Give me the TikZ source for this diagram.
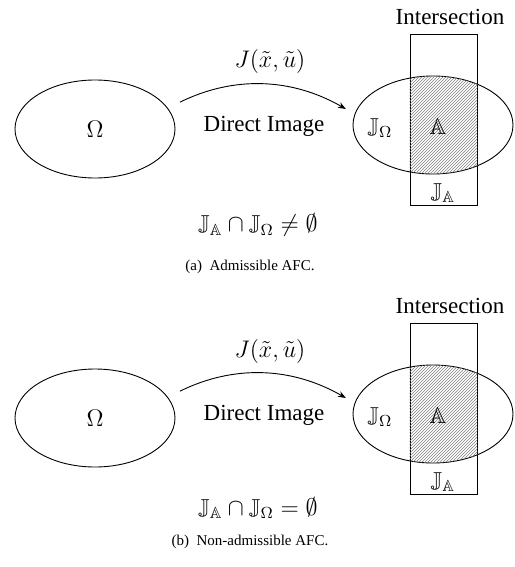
\documentclass[tikz,border=0pt]{standalone}
\usepackage{amsmath,amssymb}
\usepackage{fontspec}
\setmainfont{Liberation Serif}
\usetikzlibrary{arrows.meta,shapes.geometric}

\begin{document}
\begin{tikzpicture}[x=0.5pt, y=-0.5pt, font=\fontsize{11.5}{14}\selectfont, >={Stealth[length=4pt, width=3pt]}, region/.style = {ellipse, draw, line width=0.45pt, minimum width=80pt, minimum height=49pt, inner sep=0pt}, box/.style = {draw, line width=0.45pt, minimum width=33.5pt, minimum height=85.5pt, inner sep=0pt}, hatchline/.style = {draw=gray, line width=0.3pt}, caption/.style = {font=\fontsize{7.5}{9}\selectfont}, every edge/.append style={line width=0.45pt}]

\useasboundingbox (0,0) rectangle (514,567);

% (a) admissible
\node[region] (omegaA) at (95,129) {$\Omega$};
\node[region] (imgA) at (433,125) {};
\node[box] (boxA) at (443.5,119.5) {};
\begin{scope}
\clip (boxA.south west) rectangle (boxA.north east);
\clip (imgA.center) ellipse [x radius=40pt, y radius=24.5pt];
\foreach \k in {240,243,...,510}
  \draw[hatchline] (\k,220) -- ++(200,-200);
\end{scope}

\node (interA) at (450,17) {Intersection};
\node (mapA) at (270,62) {$J(\tilde{x},\tilde{u})$};
\node (directA) at (264,126) {Direct Image};
\node (jomA) at (380,128) {$\mathbb{J}_\Omega$};
\node (aA) at (438,127) {$\mathbb{A}$};
\node (jaA) at (443,193) {$\mathbb{J}_{\mathbb{A}}$};
\node (relA) at (258,225) {$\mathbb{J}_{\mathbb{A}}\cap\mathbb{J}_\Omega\neq\emptyset$};
\node[caption] (capA) at (250,267) {(a)\enspace Admissible AFC.};

\path (omegaA.16) edge[->, bend left=28, shorten <=6.7pt, shorten >=5pt] (imgA.172);

% (b) non-admissible
\node[region] (omegaB) at (95,418) {$\Omega$};
\node[region] (imgB) at (433,414) {};
\node[box] (boxB) at (443.5,408.5) {};
\begin{scope}
\clip (boxB.south west) rectangle (boxB.north east);
\clip (imgB.center) ellipse [x radius=40pt, y radius=24.5pt];
\foreach \k in {240,243,...,510}
  \draw[hatchline] (\k,509) -- ++(200,-200);
\end{scope}

\node (interB) at (450,306) {Intersection};
\node (mapB) at (270,351) {$J(\tilde{x},\tilde{u})$};
\node (directB) at (264,415) {Direct Image};
\node (jomB) at (380,417) {$\mathbb{J}_\Omega$};
\node (aB) at (438,416) {$\mathbb{A}$};
\node (jaB) at (443,482) {$\mathbb{J}_{\mathbb{A}}$};
\node (relB) at (258,508) {$\mathbb{J}_{\mathbb{A}}\cap\mathbb{J}_\Omega=\emptyset$};
\node[caption] (capB) at (250,542) {(b)\enspace Non-admissible AFC.};

\path (omegaB.16) edge[->, bend left=28, shorten <=6.7pt, shorten >=5pt] (imgB.172);
\end{tikzpicture}
\end{document}
